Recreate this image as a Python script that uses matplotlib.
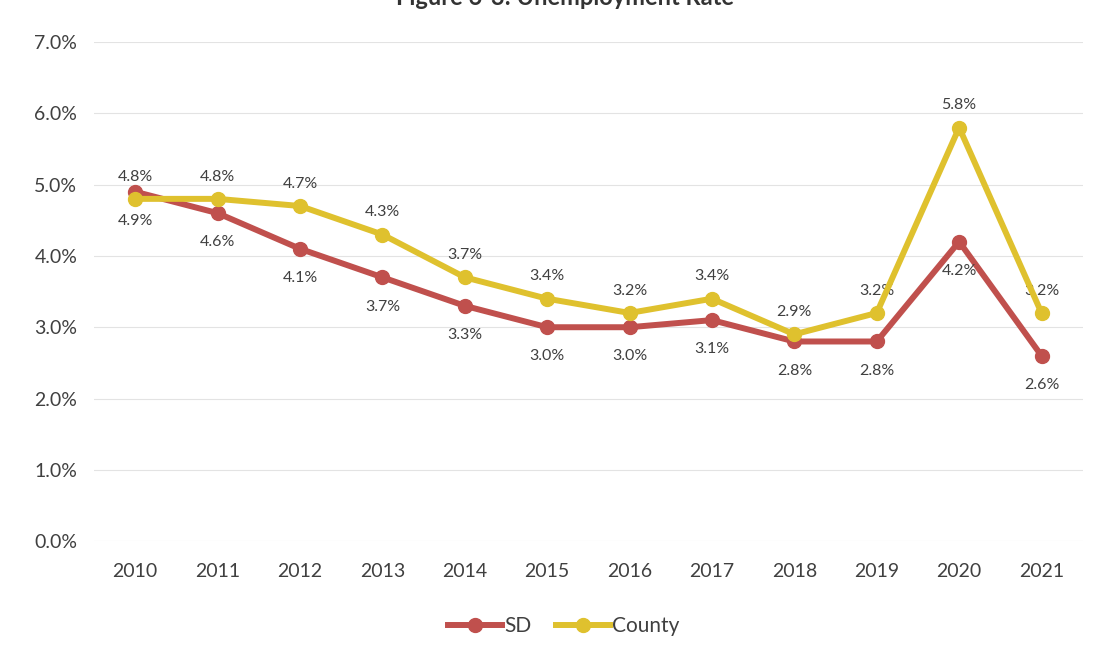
import numpy as np
from matplotlib import pyplot as plt
from matplotlib.ticker import FuncFormatter

years = ["2010", "2011", "2012", "2013", "2014", "2015", "2016", "2017", "2018", "2019", "2020", "2021"]
sd_rate = [4.9, 4.6, 4.1, 3.7, 3.3, 3.0, 3.0, 3.1, 2.8, 2.8, 4.2, 2.6]
county_rate = [4.8, 4.8, 4.7, 4.3, 3.7, 3.4, 3.2, 3.4, 2.9, 3.2, 5.8, 3.2]
y_ticks = [0, 1, 2, 3, 4, 5, 6, 7]

sd_color = "#c0504d"
county_color = "#dfc12e"
text_color = "#404040"

plt.rcParams["font.family"] = ["Lato", "DejaVu Sans"]

fig = plt.figure(figsize=(10.97, 6.52), dpi=100)
ax = fig.add_axes([0.0857, 0.170, 0.9013, 0.7656])
x = np.arange(len(years))

ax.plot(x, sd_rate, color=sd_color, lw=4.3, marker="o", ms=10, label="SD", zorder=3)
ax.plot(x, county_rate, color=county_color, lw=4.3, marker="o", ms=10, label="County", zorder=4)

# SD values go under the points, County values above
for i in range(len(years)):
    ax.annotate(f"{sd_rate[i]:.1f}%", (x[i], sd_rate[i]), xytext=(0, -16), textcoords="offset points",
                ha="center", va="top", fontsize=11.5, color=text_color)
    ax.annotate(f"{county_rate[i]:.1f}%", (x[i], county_rate[i]), xytext=(0, 11), textcoords="offset points",
                ha="center", va="bottom", fontsize=11.5, color=text_color)

ax.set_xlim(-0.5, len(years) - 0.5)
ax.set_ylim(0, 7)
ax.set_xticks(x)
ax.set_xticklabels(years)
ax.set_yticks(y_ticks)
ax.yaxis.set_major_formatter(FuncFormatter(lambda v, p: f"{v:.1f}%"))
ax.tick_params(axis="both", length=0, labelsize=14, colors=text_color)
ax.tick_params(axis="x", pad=16)
ax.tick_params(axis="y", pad=12)
ax.grid(axis="y", color="#e3e3e3", lw=0.8)
for s in ax.spines.values():
    s.set_visible(False)

fig.text(0.515, 0.992, "Figure 6-3: Unemployment Rate", ha="center", va="baseline",
         fontsize=17, fontweight="bold", color="#333333")

ax.legend(loc="upper center", bbox_to_anchor=(0.475, -0.112), ncol=2, frameon=False,
          fontsize=15, handlelength=2.6, columnspacing=1.2, handletextpad=0.1, labelcolor=text_color)

fig.savefig("out.png", dpi=100)
